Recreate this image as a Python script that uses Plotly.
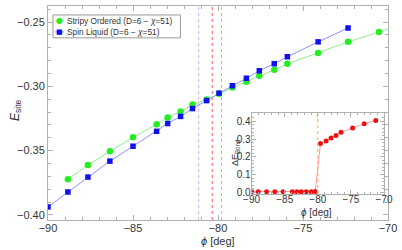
import plotly.graph_objects as go

# ---- main panel data ----
phi_spin = [-90.0, -88.83, -87.65, -86.36, -85.0, -83.61, -82.96, -82.20, -81.50,
            -80.67, -79.94, -79.15, -78.33, -77.57, -76.69, -75.92, -74.11, -72.35]
e_spin = [-0.3938, -0.3822, -0.3706, -0.3582, -0.3466, -0.3350, -0.3289, -0.3234, -0.3173,
          -0.3111, -0.3053, -0.2995, -0.2937, -0.2879, -0.2824, -0.2770, -0.2654, -0.2546]

phi_stripy = [-88.83, -87.65, -86.36, -85.0, -83.61, -82.96, -82.20, -81.50, -80.67,
              -79.94, -79.15, -78.33, -77.57, -76.69, -75.92, -74.11, -72.35, -70.53]
e_stripy = [-0.3722, -0.3613, -0.3505, -0.3397, -0.3296, -0.3242, -0.3196, -0.3142, -0.3103,
            -0.3057, -0.3010, -0.2964, -0.2918, -0.2871, -0.2825, -0.2740, -0.2654, -0.2577]
stripy_tail_phi = [-70.0]
stripy_tail_e = [-0.2553]

legend_labels = ["Stripy Ordered (D=6 − <i>χ</i>=51)", "Spin Liquid (D=6 − <i>χ</i>=51)"]

# vertical transition markers (deg)
vline_phi = [-81.14, -80.34, -79.79]
vline_colors = ["#d8b0ea", "#f25a5a", "#ffaa3a"]

# ---- inset data ----
phi_bond = [-90.0, -89.0, -87.75, -86.5, -85.25, -83.85, -83.15, -82.5, -81.75, -81.0, -80.4,
            -79.6, -78.75, -78.0, -77.25, -76.5, -74.75, -73.0, -71.25]
d_bond = [0.003, 0.003, 0.003, 0.003, 0.003, 0.003, 0.003, 0.003, 0.003, 0.003, 0.004,
          0.276, 0.289, 0.307, 0.320, 0.339, 0.363, 0.387, 0.406]
inset_vline_phi = -80.0

main_xticks = [-90, -85, -80, -75, -70]
main_yticks = [-0.40, -0.35, -0.30, -0.25]
inset_xticks = [-90, -85, -80, -75, -70]
inset_yticks = [0.0, 0.1, 0.2, 0.3, 0.4]

FONT = "Liberation Sans, Arial, sans-serif"
AXCOL = "#b0b0b0"
TXT = "#333333"
GREEN_LINE, GREEN_MK = "#90ee90", "#22ee22"
BLUE_LINE, BLUE_MK = "#9090ff", "#1010ee"

# plot-area geometry (pixels) used only to place the hand-made legend / titles
L, R, T, B = 48, 10, 5, 30
W, H = 402, 250
PW, PH = W - L - R, H - T - B


def px(xp):
    return (xp - L) / PW


def py(yp):
    return (H - B - yp) / PH


fig = go.Figure()

fig.add_trace(go.Scatter(x=phi_stripy + stripy_tail_phi, y=e_stripy + stripy_tail_e, mode="lines",
                         line=dict(color=GREEN_LINE, width=1), showlegend=False, hoverinfo="skip"))
fig.add_trace(go.Scatter(x=phi_spin, y=e_spin, mode="lines",
                         line=dict(color=BLUE_LINE, width=1), showlegend=False, hoverinfo="skip"))
fig.add_trace(go.Scatter(x=phi_stripy, y=e_stripy, mode="markers",
                         marker=dict(symbol="circle", size=6.5, color=GREEN_MK),
                         name=legend_labels[0], showlegend=False))
fig.add_trace(go.Scatter(x=phi_spin, y=e_spin, mode="markers",
                         marker=dict(symbol="square", size=5.5, color=BLUE_MK),
                         name=legend_labels[1], showlegend=False))

fig.add_trace(go.Scatter(x=phi_bond, y=d_bond, mode="markers+lines", xaxis="x2", yaxis="y2",
                         line=dict(color="#ff9a9a", width=1),
                         marker=dict(symbol="circle", size=5, color="#ee1111"),
                         showlegend=False))

shapes = []
for p, c in zip(vline_phi, vline_colors):
    shapes.append(dict(type="line", xref="x", yref="paper", x0=p, x1=p, y0=0, y1=1,
                       line=dict(color=c, width=1, dash="dot"), layer="below"))
shapes.append(dict(type="line", xref="x2", yref="y2 domain", x0=inset_vline_phi, x1=inset_vline_phi,
                   y0=0, y1=1, line=dict(color="#ffaa3a", width=1, dash="dot")))

# hand-made compact legend box
shapes.append(dict(type="rect", xref="paper", yref="paper", x0=px(53), x1=px(182), y0=py(37), y1=py(14),
                   line=dict(color="#999999", width=1), fillcolor="white"))
annotations = []
for i, (lab, lc, mc, sym) in enumerate(zip(legend_labels, [GREEN_LINE, BLUE_LINE], [GREEN_MK, BLUE_MK],
                                           ["●", "■"])):
    yrow = 20 + i * 11
    shapes.append(dict(type="line", xref="paper", yref="paper", x0=px(55), x1=px(64), y0=py(yrow), y1=py(yrow),
                       line=dict(color=lc, width=1)))
    annotations.append(dict(xref="paper", yref="paper", x=px(59.5), y=py(yrow), text=sym, showarrow=False,
                            font=dict(family="DejaVu Sans", size=8 if sym == "●" else 7, color=mc),
                            xanchor="center", yanchor="middle"))
    annotations.append(dict(xref="paper", yref="paper", x=px(65), y=py(yrow), text=lab, showarrow=False,
                            font=dict(family=FONT, size=8.3, color=TXT), xanchor="left", yanchor="middle"))

# axis titles
annotations.append(dict(xref="paper", yref="paper", x=px(220), y=py(241), text="<i>ϕ</i> [deg]",
                        showarrow=False, font=dict(family=FONT, size=11, color=TXT),
                        xanchor="center", yanchor="middle"))
annotations.append(dict(xref="paper", yref="paper", x=px(15), y=py(110), text="<i>E</i><sub>site</sub>",
                        showarrow=False, textangle=-90, font=dict(family=FONT, size=12, color=TXT),
                        xanchor="center", yanchor="middle"))
annotations.append(dict(xref="paper", yref="paper", x=px(320), y=py(212), text="<i>ϕ</i> [deg]",
                        showarrow=False, font=dict(family=FONT, size=10, color=TXT),
                        xanchor="center", yanchor="middle"))
annotations.append(dict(xref="paper", yref="paper", x=px(238), y=py(152), text="ΔE<sub>Bond</sub>",
                        showarrow=False, textangle=-90, font=dict(family=FONT, size=9, color=TXT),
                        xanchor="center", yanchor="middle"))

common_axis = dict(showline=True, linecolor=AXCOL, linewidth=1, mirror="allticks",
                   ticks="inside", tickcolor=AXCOL, showgrid=False, zeroline=False,
                   tickfont=dict(family=FONT, size=11, color=TXT))

fig.update_layout(
    width=W, height=H,
    margin=dict(l=L, r=R, t=T, b=B),
    paper_bgcolor="white", plot_bgcolor="white",
    font=dict(family=FONT, color=TXT),
    showlegend=False,
    shapes=shapes, annotations=annotations,
    xaxis=dict(**common_axis, range=[-90, -70], tickvals=main_xticks,
               ticktext=[f"−{abs(v)}" for v in main_xticks], ticklen=5, ticklabelstandoff=-2,
               minor=dict(dtick=1, ticks="inside", ticklen=3, tickcolor=AXCOL)),
    yaxis=dict(**common_axis, range=[-0.404, -0.2375], tickvals=main_yticks,
               ticktext=[f"−{abs(v):.2f}" for v in main_yticks], ticklen=5,
               minor=dict(dtick=0.01, tick0=-0.40, ticks="inside", ticklen=3, tickcolor=AXCOL)),
    xaxis2=dict(**{**common_axis, "tickfont": dict(family=FONT, size=10, color=TXT)},
                domain=[px(254), px(388)], anchor="y2", range=[-90, -70], tickvals=inset_xticks,
                ticktext=[f"−{abs(v)}" for v in inset_xticks], ticklen=4, ticklabelstandoff=-4,
                minor=dict(dtick=1, ticks="inside", ticklen=2, tickcolor=AXCOL)),
    yaxis2=dict(**{**common_axis, "tickfont": dict(family=FONT, size=10, color=TXT)},
                domain=[py(194), py(113)], anchor="x2", range=[-0.011, 0.445], tickvals=inset_yticks,
                ticktext=[f"{v:.1f}" for v in inset_yticks], ticklen=4, ticklabelstandoff=-2,
                minor=dict(dtick=0.02, ticks="inside", ticklen=2, tickcolor=AXCOL)),
)

fig.write_html("out.html", config={"displayModeBar": False, "staticPlot": True},
               post_script="document.body.style.margin='0';document.body.style.overflow='hidden';")
